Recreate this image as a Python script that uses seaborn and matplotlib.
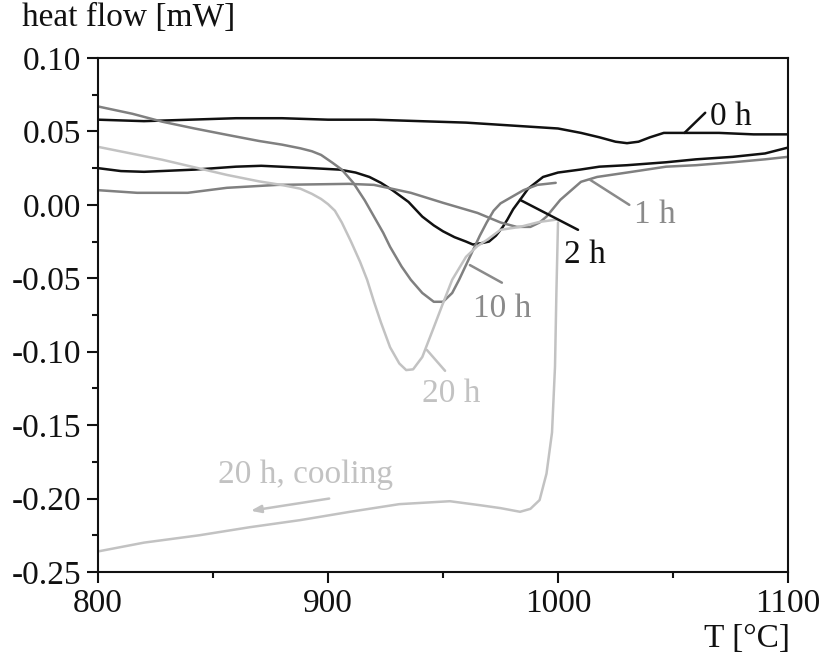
import matplotlib
matplotlib.use("Agg")
import matplotlib.pyplot as plt
import seaborn as sns
from matplotlib.ticker import MultipleLocator, FormatStrFormatter

# DSC heating curves: temperature [°C] and heat flow [mW]
t_0h = [800, 820, 840, 860, 880, 900, 920, 940, 960, 980, 1000, 1010, 1018,
        1025, 1030, 1035, 1040, 1046, 1055, 1070, 1085, 1100]
hf_0h = [0.058, 0.057, 0.058, 0.059, 0.059, 0.058, 0.058, 0.057, 0.056, 0.054,
         0.052, 0.049, 0.046, 0.043, 0.042, 0.043, 0.046, 0.049, 0.049, 0.049,
         0.048, 0.048]

t_1h = [800, 817, 839, 856, 878, 909, 920, 936, 950, 965, 975, 982, 988, 992,
        995, 1001, 1010, 1017, 1030, 1047, 1060, 1076, 1090, 1100]
hf_1h = [0.010, 0.0082, 0.0082, 0.0116, 0.0136, 0.0143, 0.0136, 0.0082, 0.0014,
         -0.0055, -0.012, -0.015, -0.015, -0.012, -0.008, 0.0034, 0.0157, 0.019,
         0.022, 0.026, 0.027, 0.029, 0.031, 0.0327]

t_2h = [800, 810, 820, 842, 860, 871, 893, 905, 912, 918, 923, 928, 935, 941,
        946, 950, 955, 960, 963, 967, 970, 973, 976, 978, 980.5, 983.5, 987,
        993.5, 1000, 1009.6, 1018, 1030, 1047, 1060, 1076, 1090, 1100]
hf_2h = [0.025, 0.023, 0.0225, 0.024, 0.026, 0.0266, 0.025, 0.024, 0.022, 0.019,
         0.015, 0.010, 0.002, -0.008, -0.014, -0.018, -0.022, -0.025, -0.027,
         -0.026, -0.025, -0.021, -0.015, -0.010, -0.003, 0.0034, 0.011, 0.019,
         0.022, 0.024, 0.026, 0.027, 0.029, 0.031, 0.0327, 0.035, 0.039]

t_10h = [800, 815, 828, 842, 856, 870, 880, 888, 893, 897, 902, 906, 911, 916,
         920, 924, 927, 932, 936, 941, 946, 950, 954, 957, 960, 963, 966, 969,
         972, 975, 980, 985, 991, 999]
hf_10h = [0.067, 0.062, 0.0566, 0.052, 0.0477, 0.0435, 0.041, 0.0385, 0.0365,
          0.034, 0.0286, 0.024, 0.015, 0.003, -0.008, -0.019, -0.0286, -0.042,
          -0.051, -0.060, -0.066, -0.066, -0.060, -0.051, -0.041, -0.031,
          -0.021, -0.012, -0.004, 0.001, 0.0055, 0.010, 0.0136, 0.015]

t_20h = [800, 828, 856, 870, 880, 888, 893, 897, 900, 903, 906, 910, 914, 917,
         920, 923, 927, 931, 934, 937, 941, 945.6, 950, 954, 960, 965, 969, 975,
         983.5, 992, 999.5]
hf_20h = [0.0395, 0.0307, 0.0204, 0.016, 0.0135, 0.011, 0.0075, 0.004, 0.0005,
          -0.004, -0.012, -0.025, -0.039, -0.051, -0.066, -0.080, -0.097,
          -0.108, -0.1125, -0.112, -0.1036, -0.085, -0.067, -0.051, -0.0354,
          -0.028, -0.024, -0.017, -0.015, -0.0116, -0.010]

# 20 h sample, cooling run (from 1000 °C downwards)
t_20h_cool = [1000, 999.3, 998.7, 997.4, 995, 992, 988, 983.5, 975, 966, 953,
              931, 909.6, 887.8, 866, 844, 820, 800]
hf_20h_cool = [-0.012, -0.06, -0.110, -0.155, -0.183, -0.201, -0.207, -0.209,
               -0.2065, -0.2045, -0.2018, -0.2038, -0.209, -0.2147, -0.2195,
               -0.225, -0.230, -0.236]

x_ticks = [800, 900, 1000, 1100]
y_ticks = [-0.25, -0.20, -0.15, -0.10, -0.05, 0.00, 0.05, 0.10]

BLACK = "#111111"
GRAY = "#808080"
LIGHT = "#c2c2c2"

sns.set_style("ticks")
plt.rcParams["font.family"] = ["Liberation Serif", "DejaVu Serif"]
plt.rcParams["axes.unicode_minus"] = False

FS = 24

fig = plt.figure(figsize=(8.24, 6.59), dpi=100)
ax = fig.add_axes([98 / 824, 1 - 572 / 659, 690 / 824, 514 / 659])

series = [
    (t_0h, hf_0h, BLACK),
    (t_2h, hf_2h, BLACK),
    (t_1h, hf_1h, GRAY),
    (t_10h, hf_10h, GRAY),
    (t_20h, hf_20h, LIGHT),
    (t_20h_cool, hf_20h_cool, LIGHT),
]
for t, hf, c in series:
    sns.lineplot(x=t, y=hf, color=c, linewidth=1.8, sort=False,
                 estimator=None, ax=ax)

ax.set_xlim(800, 1100)
ax.set_ylim(-0.25, 0.10)
ax.set_xticks(x_ticks)
ax.set_yticks(y_ticks)
ax.xaxis.set_minor_locator(MultipleLocator(50))
ax.yaxis.set_minor_locator(MultipleLocator(0.025))
ax.yaxis.set_major_formatter(FormatStrFormatter("%.2f"))
ax.tick_params(which="major", direction="out", length=8, width=1.5,
               labelsize=FS, pad=4, colors="#111111")
ax.tick_params(which="minor", direction="out", length=4, width=1.5,
               colors="#111111")
ax.tick_params(top=False, right=False, which="both")
for s in ax.spines.values():
    s.set_visible(True)
    s.set_linewidth(1.5)
    s.set_color("#111111")
ax.set_xlabel("")
ax.set_ylabel("")

# curve labels with leader lines
def label(text, xy_curve, xy_end, xy_text, color):
    ax.plot([xy_curve[0], xy_end[0]], [xy_curve[1], xy_end[1]],
            color=color, linewidth=1.8, clip_on=False)
    ax.text(xy_text[0], xy_text[1], text, color=color, fontsize=FS,
            ha="left", va="baseline")

label("0 h", (1055, 0.049), (1064, 0.0627), (1066, 0.0545), BLACK)
label("1 h", (1014, 0.017), (1031, 0.0), (1033, -0.0123), "#8a8a8a")
label("2 h", (983.5, 0.0034), (1008.7, -0.017), (1002.5, -0.0395), BLACK)
label("10 h", (961.7, -0.041), (975.6, -0.053), (963, -0.0763), "#8a8a8a")
label("20 h", (943, -0.0988), (950.9, -0.113), (941, -0.134), LIGHT)

ax.text(852, -0.1895, "20 h, cooling", color=LIGHT, fontsize=FS,
        ha="left", va="baseline")
ax.annotate("", xy=(865.2, -0.2086), xytext=(901.7, -0.1997),
            arrowprops=dict(arrowstyle="-|>,head_length=0.6,head_width=0.22",
                            color=LIGHT, linewidth=1.8))

fig.text(22 / 824, 1 - 26 / 659, "heat flow [mW]", fontsize=FS,
         ha="left", va="baseline", color="#111111")
fig.text(790 / 824, 1 - 647 / 659, "T [°C]", fontsize=FS,
         ha="right", va="baseline", color="#111111")

fig.savefig("out.png", dpi=100)
